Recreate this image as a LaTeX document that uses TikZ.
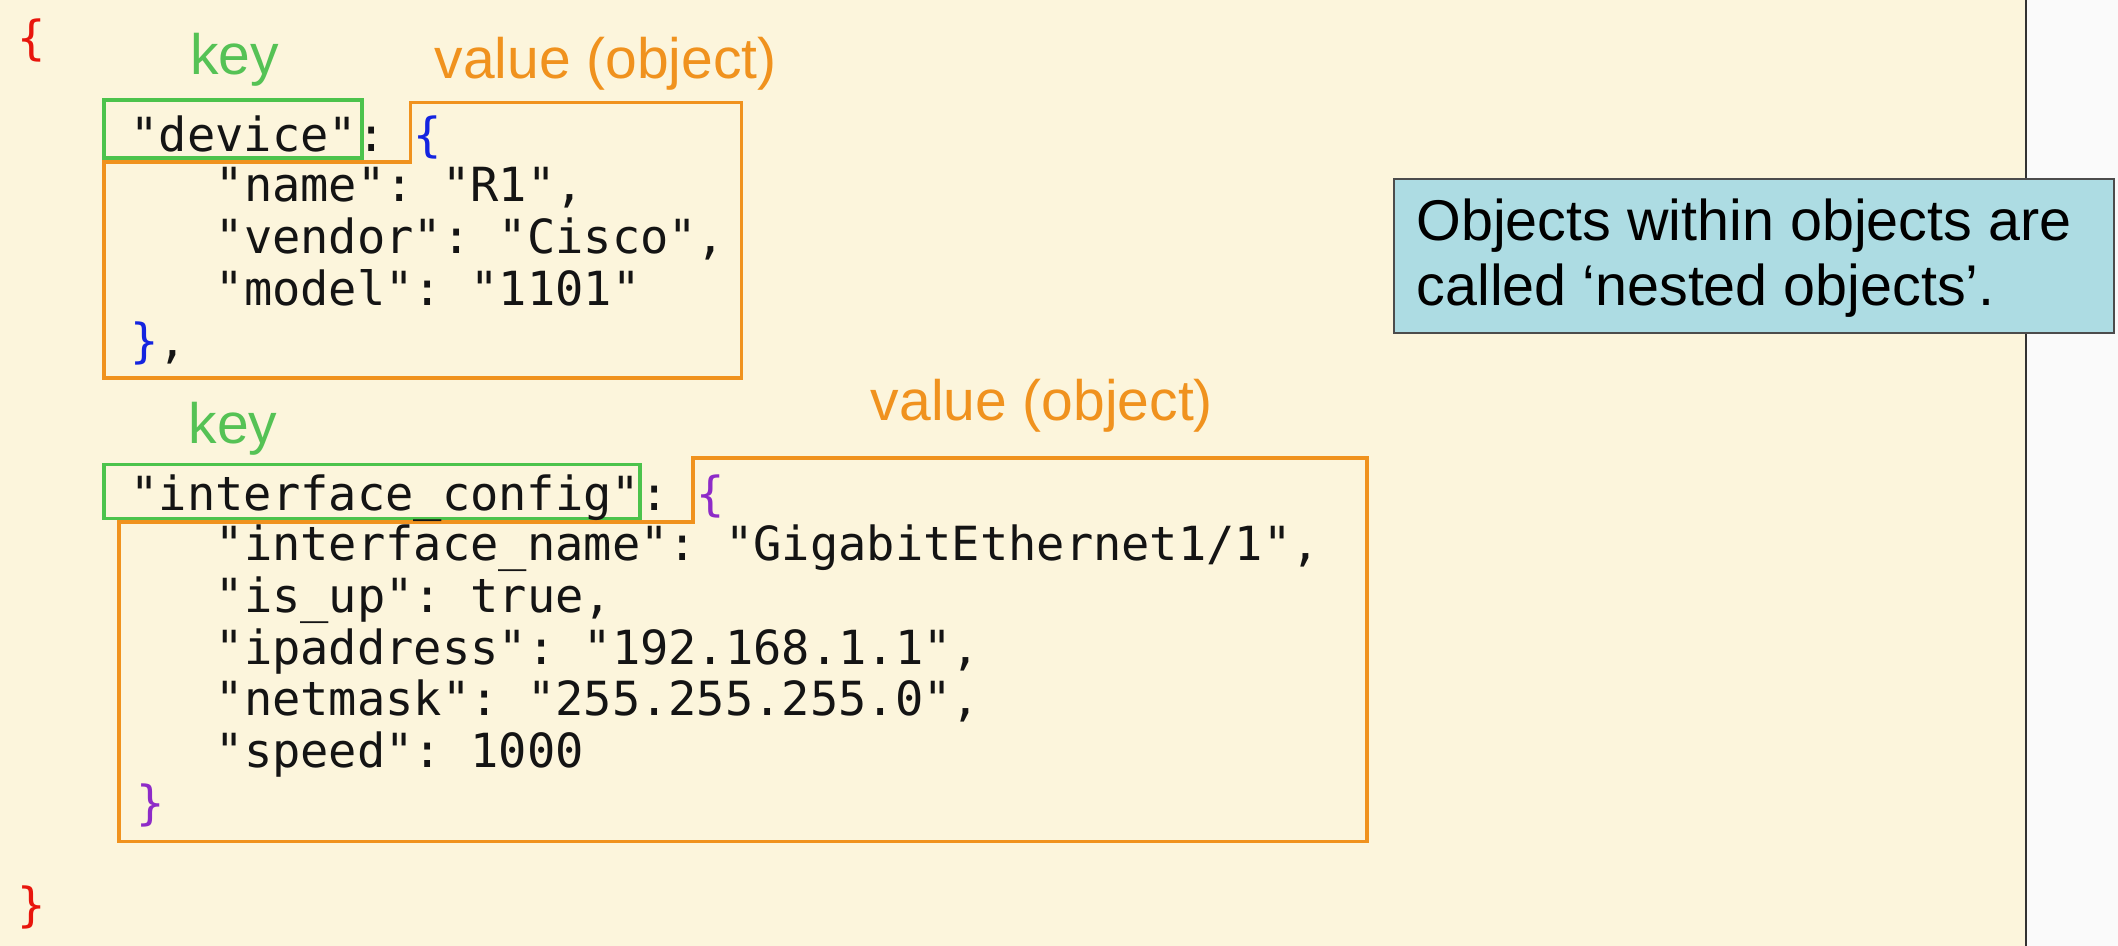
\documentclass[tikz,border=0pt]{standalone}
\usepackage{fontspec}
\setmainfont{Liberation Sans}
\newfontfamily\codefont{DejaVu Sans Mono}
\definecolor{bgcream}{HTML}{FCF5DC}
\definecolor{jorange}{HTML}{F0921E}
\definecolor{jgreen}{HTML}{4CC34C}
\definecolor{keygreen}{HTML}{55C255}
\definecolor{jred}{HTML}{E8150C}
\definecolor{jblue}{HTML}{1424E0}
\definecolor{jpurple}{HTML}{8E2BC8}
\definecolor{codeblack}{HTML}{141414}
\definecolor{noteblue}{HTML}{ADDCE3}
\begin{document}
\begin{tikzpicture}[x=0.01cm,y=-0.01cm,
  code/.style={font=\codefont\fontsize{9.9}{11}\selectfont, inner sep=0pt, anchor=base west, text=codeblack},
  lbl/.style={font=\fontsize{12}{14}\selectfont, inner sep=0pt, anchor=base west},
  keylbl/.style={lbl, text=keygreen},
  vallbl/.style={lbl, text=jorange},
  keybox/.style={draw=jgreen, line width=0.75pt},
  valbox/.style={draw=jorange, line width=0.75pt, line join=miter},
  note/.style={draw=black!70, line width=0.4pt, fill=noteblue, inner sep=0pt}
]
\useasboundingbox (0,0) rectangle (1568,700);
\fill[bgcream] (0,0) rectangle (1500,700);
\fill[white!98!black] (1500,0) rectangle (1568,700);
\draw[line width=0.5pt, black!80] (1500,0) -- (1500,700);

% outer braces
\node[code, text=jred] (obrace) at (12,40) {\{};
\node[code, text=jred] (cbrace) at (12,682) {\}};

% block 1
\node[keylbl] (key1) at (140,55.5) {key};
\node[vallbl] (val1) at (321,58) {value (object)};
\draw[valbox] (304,76) -- (549,76) -- (549,280) -- (77,280) -- (77,120) -- (304,120) -- cycle;
\draw[keybox] (77,74) rectangle (268,117);
\node[code] (d0) at (96,112) {"device":~\textcolor{jblue}{\{}};
\node[code] (d1) at (159,149) {"name":~"R1",};
\node[code] (d2) at (159,188) {"vendor":~"Cisco",};
\node[code] (d3) at (159,226.5) {"model":~"1101"};
\node[code] (d4) at (96,265) {\textcolor{jblue}{\}},};

% block 2
\node[keylbl] (key2) at (139,328) {key};
\node[vallbl] (val2) at (644,311) {value (object)};
\draw[valbox] (513,339) -- (1012,339) -- (1012,623) -- (88,623) -- (88,386.5) -- (513,386.5) -- cycle;
\draw[keybox] (77,344) rectangle (474,384);
\node[code] (i0) at (96,378) {"interface\_config":~\textcolor{jpurple}{\{}};
\node[code] (i1) at (159,415) {"interface\_name":~"GigabitEthernet1/1",};
\node[code] (i2) at (159,453.5) {"is\_up":~true,};
\node[code] (i3) at (159,492) {"ipaddress":~"192.168.1.1",};
\node[code] (i4) at (159,530) {"netmask":~"255.255.255.0",};
\node[code] (i5) at (159,568.5) {"speed":~1000};
\node[code, text=jpurple] (i6) at (100,607) {\}};

% note
\node[note, minimum width=5.33cm, minimum height=1.14cm, anchor=north west] (notebox) at (1031,132) {};
\node[lbl, font=\fontsize{12.1}{13.6}\selectfont, align=left, anchor=base west] (notetext) at (1048,226)
  {Objects within objects are\\called ‘nested objects’.};
\end{tikzpicture}
\end{document}
